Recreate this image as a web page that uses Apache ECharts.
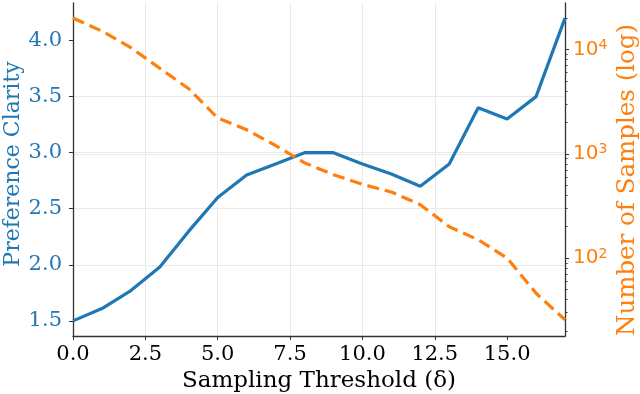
<!DOCTYPE html>
<html>
<head>
<meta charset="utf-8">
<script src="https://cdn.jsdelivr.net/npm/echarts@6/dist/echarts.min.js"></script>
<style>
	html, body { margin: 0; padding: 0; background: #fff; }
	#chart { width: 640px; height: 394px; }
</style>
</head>
<body>
<div id="chart"></div>
<script>
	// sampling threshold (x) and the two measured curves
	const thresholds = [0, 1, 2, 3, 4, 5, 6, 7, 8, 9, 10, 11, 12, 13, 14, 15, 16, 17];
	const clarity = [1.5, 1.61, 1.77, 1.98, 2.3, 2.6, 2.8, 2.9, 3.0, 3.0, 2.9, 2.81, 2.7, 2.9, 3.4, 3.3, 3.5, 4.2];
	const samples = [20000, 15000, 10400, 6600, 4200, 2200, 1700, 1200, 820, 630, 510, 430, 325, 200, 150, 100, 46, 25.6];

	// tick labels
	const xTicks = [0, 2.5, 5, 7.5, 10, 12.5, 15];
	const clarityTicks = [1.5, 2.0, 2.5, 3.0, 3.5, 4.0];
	const sampleTicks = [100, 1000, 10000];
	const sampleMinorTicks = [20, 30, 40, 50, 60, 70, 80, 90, 200, 300, 400, 500, 600, 700, 800, 900,
		2000, 3000, 4000, 5000, 6000, 7000, 8000, 9000, 20000];

	const blue = '#1f77b4';
	const orange = '#ff7f0e';
	const serif = 'DejaVu Serif';
	const spine = { show: true, lineStyle: { color: '#333', width: 1.3 } };
	const grid = { show: true, showMinLine: false, showMaxLine: false, lineStyle: { color: '#e9e9e9', width: 1 } };

	let chart = echarts.init(document.getElementById('chart'));
	chart.setOption({
		animation: false,
		grid: { left: 73, right: 75, top: 3, bottom: 58, outerBoundsMode: 'none', containLabel: false },
		xAxis: {
			type: 'value',
			min: 0,
			max: 17,
			interval: 2.5,
			axisLine: spine,
			axisTick: { customValues: xTicks, length: 4, lineStyle: { color: '#333' } },
			axisLabel: {
				customValues: xTicks,
				formatter: v => v.toFixed(1),
				fontFamily: serif, fontSize: 21, color: '#000', margin: 8
			},
			splitLine: grid,
			name: 'Sampling Threshold (δ)',
			nameLocation: 'middle',
			nameGap: 33,
			nameTextStyle: { fontFamily: serif, fontSize: 23, color: '#000' }
		},
		yAxis: [{
			type: 'value',
			min: 1.365,
			max: 4.335,
			position: 'left',
			axisLine: spine,
			axisTick: { show: true, customValues: clarityTicks, length: 4, lineStyle: { color: '#333' } },
			axisLabel: {
				customValues: clarityTicks,
				formatter: v => v.toFixed(1),
				fontFamily: serif, fontSize: 21, color: blue, margin: 11
			},
			splitLine: grid,
			name: 'Preference Clarity',
			nameLocation: 'middle',
			nameGap: 49,
			nameMoveOverlap: false,
			nameTextStyle: { fontFamily: serif, fontSize: 22, color: blue, padding: [0, 0, 0, 11] }
		}, {
			type: 'log',
			logBase: 10,
			min: 17.9,
			max: 27900,
			position: 'right',
			axisLine: spine,
			axisTick: { show: true, customValues: sampleTicks, length: 4, lineStyle: { color: '#333' } },
			axisLabel: {
				customValues: sampleTicks,
				formatter: v => '{b|10}{s|' + Math.round(Math.log10(v)) + '}',
				color: orange, margin: 8,
				rich: {
					b: { fontFamily: 'DejaVu Sans', fontSize: 20, color: orange, lineHeight: 22 },
					s: { fontFamily: 'DejaVu Sans', fontSize: 14, color: orange, lineHeight: 14, verticalAlign: 'top' }
				}
			},
			splitLine: grid,
			name: 'Number of Samples (log)',
			nameLocation: 'middle',
			nameGap: 50,
			nameMoveOverlap: false,
			nameTextStyle: { fontFamily: serif, fontSize: 24.5, color: orange, padding: [0, 21, 0, 0] }
		}, {
			// minor ticks of the log axis
			type: 'log',
			logBase: 10,
			min: 17.9,
			max: 27900,
			position: 'right',
			axisLine: { show: false },
			axisTick: { show: true, customValues: sampleMinorTicks, length: 2.5, lineStyle: { color: '#333' } },
			axisLabel: { show: false },
			splitLine: { show: false }
		}],
		series: [{
			type: 'line',
			yAxisIndex: 0,
			data: thresholds.map((x, i) => [x, clarity[i]]),
			showSymbol: false,
			lineStyle: { color: blue, width: 3.2 }
		}, {
			type: 'line',
			yAxisIndex: 1,
			data: thresholds.map((x, i) => [x, samples[i]]),
			showSymbol: false,
			lineStyle: { color: orange, width: 3.2, type: [12, 6], cap: 'butt' }
		}]
	});
</script>
</body>
</html>
